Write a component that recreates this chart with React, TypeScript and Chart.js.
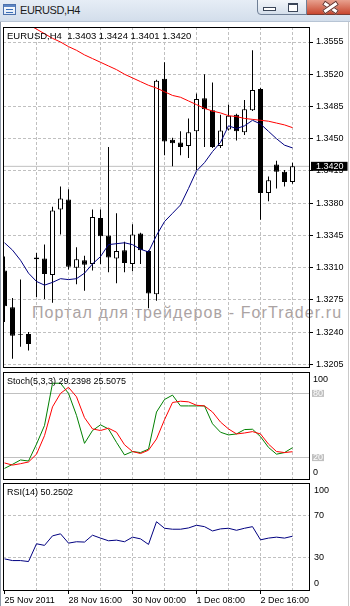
import React, { useEffect, useRef } from 'react';
import Chart from 'chart.js/auto';

const FONT = 'Liberation Sans';
const GRID = '#c0c0c0';

const windowTitle = 'EURUSD,H4';
const symbolCaption = 'EURUSD,H4';
const watermark = 'Портал для трейдеров - ForTrader.ru';

// H4 candles, index 0 = 25 Nov 2011
const opens = [1.3307, 1.3267, 1.3238, 1.3238, 1.3321, 1.3320, 1.3302, 1.3373, 1.3384, 1.3310, 1.3318, 1.3314, 1.3364, 1.3345, 1.3320, 1.3329, 1.3314, 1.3347, 1.3328, 1.3281, 1.3515, 1.3449, 1.3446, 1.3442, 1.3458, 1.3494, 1.3481, 1.3442, 1.3460, 1.3476, 1.3457, 1.3481, 1.3504, 1.3391, 1.3422, 1.3414, 1.3403];
const highs = [1.3322, 1.3277, 1.3297, 1.3240, 1.3326, 1.3335, 1.3376, 1.3398, 1.3395, 1.3332, 1.3323, 1.3373, 1.3373, 1.3441, 1.3369, 1.3338, 1.3357, 1.3348, 1.3329, 1.3514, 1.3533, 1.3451, 1.3458, 1.3472, 1.3499, 1.3520, 1.3511, 1.3476, 1.3487, 1.3477, 1.3492, 1.3546, 1.3505, 1.3409, 1.3426, 1.3416, 1.3424];
const lows = [1.3251, 1.3211, 1.3224, 1.3220, 1.3278, 1.3276, 1.3272, 1.3346, 1.3308, 1.3292, 1.3285, 1.3307, 1.3314, 1.3305, 1.3293, 1.3305, 1.3306, 1.3314, 1.3266, 1.3274, 1.3432, 1.3420, 1.3432, 1.3429, 1.3416, 1.3441, 1.3440, 1.3440, 1.3459, 1.3448, 1.3454, 1.3480, 1.3362, 1.3382, 1.3396, 1.3398, 1.3401];
const closes = [1.3268, 1.3236, 1.3237, 1.3227, 1.3319, 1.3303, 1.3372, 1.3385, 1.3311, 1.3319, 1.3313, 1.3365, 1.3344, 1.3321, 1.3328, 1.3315, 1.3346, 1.3329, 1.3282, 1.3513, 1.3447, 1.3445, 1.3441, 1.3457, 1.3493, 1.3482, 1.3441, 1.3459, 1.3475, 1.3458, 1.3482, 1.3503, 1.3391, 1.3405, 1.3414, 1.3403, 1.3420];

const maSlow = [1.3589, 1.3584, 1.3579, 1.3574, 1.3569, 1.3564, 1.3559, 1.3555, 1.3550, 1.3546, 1.3541, 1.3537, 1.3533, 1.3529, 1.3525, 1.3520, 1.3516, 1.3512, 1.3508, 1.3505, 1.3501, 1.3497, 1.3495, 1.3491, 1.3487, 1.3483, 1.3480, 1.3478, 1.3475, 1.3474, 1.3472, 1.3471, 1.3470, 1.3469, 1.3467, 1.3465, 1.3462];
const maFast = [1.3337, 1.3329, 1.3318, 1.3304, 1.3295, 1.3291, 1.3294, 1.3298, 1.3297, 1.3298, 1.3304, 1.3314, 1.3322, 1.3335, 1.3336, 1.3337, 1.3335, 1.3330, 1.3327, 1.3345, 1.3360, 1.3369, 1.3378, 1.3396, 1.3415, 1.3424, 1.3436, 1.3446, 1.3464, 1.3461, 1.3464, 1.3470, 1.3466, 1.3458, 1.3450, 1.3443, 1.3440];

const stochMain = [9.9, 13.7, 17.8, 16.8, 32.6, 50, 89.5, 89.5, 80, 59.5, 33.3, 45.3, 50.6, 46.8, 34.2, 22.5, 25.7, 24.7, 27.9, 62.6, 74.3, 78.4, 68.3, 68.3, 68.3, 68.3, 51.6, 43.7, 41.2, 42.1, 46.2, 46.5, 39.6, 29.5, 23.2, 24.7, 29.2398];
const stochSignal = [15, 13, 14.3, 15.9, 23.2, 40.5, 67.4, 80, 85.7, 76.8, 57.3, 46.8, 45.3, 47.5, 43.7, 32, 25.7, 23.8, 26.9, 37.4, 55.4, 71.5, 72.7, 72.1, 68.9, 68.3, 62.6, 53.2, 46.8, 42.1, 43, 44.3, 42.1, 32.6, 25.7, 24.7, 25.5075];
const rsiValues = [29.1, 27.5, 27.5, 26.6, 43.2, 41.7, 50.6, 52.5, 43.8, 45.1, 44.8, 51.2, 48.5, 46, 46.6, 45.1, 49.4, 47.8, 42.6, 63.8, 57.7, 56.8, 56.8, 58, 60.5, 59.2, 55.2, 57.1, 57.7, 55.8, 57.7, 59.2, 46.9, 48.5, 49.4, 48.5, 50.2502];

const priceTicks = [1.3205, 1.3240, 1.3275, 1.3310, 1.3345, 1.3380, 1.3415, 1.3450, 1.3485, 1.3520, 1.3555];
const stochLevels = [20, 80];
const rsiLevels = [30, 70];
const xLabels = ['25 Nov 2011', '28 Nov 16:00', '30 Nov 00:00', '1 Dec 08:00', '2 Dec 16:00'];
const xLabelIndex = [0, 8, 16, 24, 32];

const last = closes.length - 1;
const lastClose = closes[last];
const f4 = (v: number) => v.toFixed(4);
const priceCaption = `${symbolCaption}  ${f4(opens[last])} ${f4(highs[last])} ${f4(lows[last])} ${f4(closes[last])}`;
const stochCaption = `Stoch(5,3,3) ${stochMain[last].toFixed(4)} ${stochSignal[last].toFixed(4)}`;
const rsiCaption = `RSI(14) ${rsiValues[last].toFixed(4)}`;

const X_MIN = -0.1875;
const X_MAX = 38.0625;
const gridIdx = closes.map((_, i) => i).filter((i) => i % 4 === 0);

const panelBorder = {
  id: 'panelBorder',
  afterDraw(chart: any) {
    const { ctx, chartArea: a } = chart;
    ctx.save();
    ctx.strokeStyle = '#000';
    ctx.lineWidth = 1;
    ctx.setLineDash([]);
    ctx.strokeRect(a.left + 0.5, a.top + 0.5, a.right - a.left, a.bottom - a.top);
    ctx.restore();
  },
};

function xAxis(showLabels: boolean): any {
  return {
    type: 'linear',
    min: X_MIN,
    max: X_MAX,
    bounds: 'data',
    offset: false,
    afterBuildTicks: (s: any) => {
      s.ticks = gridIdx.map((v) => ({ value: v }));
    },
    afterFit: (s: any) => {
      s.height = showLabels ? 16 : 0;
      s.paddingLeft = 0;
      s.paddingRight = 0;
    },
    grid: {
      offset: false,
      lineWidth: 1,
      color: (c: any) => (c.tick && c.tick.value > 0 ? GRID : 'rgba(0,0,0,0)'),
      drawTicks: showLabels,
      tickLength: 4,
      tickWidth: 1,
      tickColor: (c: any) => (c.tick && xLabelIndex.includes(c.tick.value) ? '#000' : 'rgba(0,0,0,0)'),
    },
    border: { display: false, dash: [3, 2] },
    ticks: {
      display: showLabels,
      autoSkip: false,
      maxRotation: 0,
      minRotation: 0,
      align: 'start',
      padding: 1,
      color: '#000',
      font: { family: FONT, size: 9 },
      callback: (v: any) => {
        const j = xLabelIndex.indexOf(Number(v));
        return j >= 0 ? xLabels[j] : '';
      },
    },
  };
}

const baseOptions = (padding: any) => ({
  animation: false as const,
  responsive: false,
  devicePixelRatio: 1,
  events: [] as any[],
  layout: { padding },
  plugins: { legend: { display: false }, tooltip: { enabled: false }, title: { display: false } },
});

const isLast = (c: any) => !!c.tick && Math.abs(c.tick.value - lastClose) < 1e-7;

function priceConfig(): any {
  const idx = closes.map((_, i) => i);
  return {
    type: 'bar',
    data: {
      datasets: [
        {
          type: 'line',
          order: 5,
          data: [{ x: X_MIN, y: lastClose }, { x: X_MAX, y: lastClose }],
          borderColor: GRID,
          borderWidth: 1,
          pointRadius: 0,
        },
        {
          order: 4,
          data: idx.map((i) => ({ x: i, y: [lows[i], highs[i]] })),
          backgroundColor: '#000',
          borderWidth: 0,
          barThickness: 1,
          maxBarThickness: 1,
          grouped: false,
          inflateAmount: 0,
        },
        {
          order: 3,
          data: idx.map((i) => ({ x: i, y: [opens[i], closes[i]] })),
          backgroundColor: idx.map((i) => (closes[i] >= opens[i] ? '#fff' : '#000')),
          borderColor: '#000',
          borderWidth: 1,
          borderSkipped: false,
          barThickness: 5,
          maxBarThickness: 5,
          grouped: false,
          inflateAmount: 0,
        },
        {
          type: 'line',
          order: 2,
          data: idx.map((i) => ({ x: i, y: maSlow[i] })),
          borderColor: '#ff0000',
          borderWidth: 1,
          pointRadius: 0,
          tension: 0,
        },
        {
          type: 'line',
          order: 1,
          data: idx.map((i) => ({ x: i, y: maFast[i] })),
          borderColor: '#000080',
          borderWidth: 1,
          pointRadius: 0,
          tension: 0,
        },
      ],
    },
    options: {
      ...baseOptions({ top: 5, left: 3, right: 0, bottom: 5 }),
      scales: {
        x: xAxis(false),
        y: {
          type: 'linear',
          position: 'right',
          min: 1.32021,
          max: 1.35713,
          bounds: 'data',
          beginAtZero: false,
          afterBuildTicks: (s: any) => {
            s.ticks = [...priceTicks, lastClose].map((v) => ({ value: v }));
          },
          afterFit: (s: any) => {
            s.width = 41;
            s.paddingTop = 0;
            s.paddingBottom = 0;
          },
          grid: {
            lineWidth: 1,
            color: (c: any) => (isLast(c) ? 'rgba(0,0,0,0)' : GRID),
            drawTicks: true,
            tickLength: 4,
            tickWidth: 1,
            tickColor: (c: any) => (isLast(c) ? 'rgba(0,0,0,0)' : '#000'),
          },
          border: { display: false, dash: [3, 2] },
          ticks: {
            autoSkip: false,
            padding: 3,
            font: { family: FONT, size: 9, lineHeight: 1 },
            color: (c: any) => (isLast(c) ? '#fff' : '#000'),
            showLabelBackdrop: (c: any) => isLast(c),
            backdropColor: '#000',
            backdropPadding: { left: 5, right: 4, top: 0, bottom: 0 },
            callback: (v: any) => Number(v).toFixed(4),
          },
        },
      },
    },
    plugins: [panelBorder],
  };
}

// edge labels ("100" / "0") sit just inside the panel, like the terminal draws them
const EDGE_HI = 93.3;
const EDGE_LO = 6;

function oscAxis(levels: number[], levelStyle: 'stoch' | 'rsi'): any {
  const isLevel = (c: any) => !!c.tick && levels.includes(c.tick.value);
  return {
    type: 'linear',
    position: 'right',
    min: 0,
    max: 100,
    bounds: 'data',
    beginAtZero: false,
    afterBuildTicks: (s: any) => {
      s.ticks = [EDGE_LO, ...levels, EDGE_HI].map((v) => ({ value: v }));
    },
    afterFit: (s: any) => {
      s.width = 41;
      s.paddingTop = 0;
      s.paddingBottom = 0;
    },
    grid: {
      lineWidth: 1,
      color: (c: any) => (isLevel(c) ? GRID : 'rgba(0,0,0,0)'),
      drawTicks: false,
    },
    border: { display: false, dash: levelStyle === 'rsi' ? [3, 2] : [] },
    ticks: {
      autoSkip: false,
      padding: levelStyle === 'rsi' ? 5 : 4,
      font: { family: FONT, size: 9, lineHeight: 1 },
      color: (c: any) => (levelStyle === 'stoch' && isLevel(c) ? '#fff' : '#000'),
      showLabelBackdrop: (c: any) => levelStyle === 'stoch' && isLevel(c),
      backdropColor: GRID,
      backdropPadding: { left: 1, right: 1, top: -1, bottom: -1 },
      callback: (v: any) => {
        const n = Number(v);
        if (n > 90) return '100';
        if (n < 10) return '0';
        return String(n);
      },
    },
  };
}

function stochConfig(): any {
  const idx = stochMain.map((_, i) => i);
  return {
    type: 'line',
    data: {
      datasets: [
        {
          order: 2,
          data: idx.map((i) => ({ x: i, y: stochMain[i] })),
          borderColor: '#008000',
          borderWidth: 1,
          pointRadius: 0,
          tension: 0,
        },
        {
          order: 1,
          data: idx.map((i) => ({ x: i, y: stochSignal[i] })),
          borderColor: '#ff0000',
          borderWidth: 1,
          pointRadius: 0,
          tension: 0,
        },
      ],
    },
    options: {
      ...baseOptions({ top: 4, left: 3, right: 0, bottom: 4 }),
      scales: { x: xAxis(false), y: oscAxis(stochLevels, 'stoch') },
    },
    plugins: [panelBorder],
  };
}

function rsiConfig(): any {
  const idx = rsiValues.map((_, i) => i);
  return {
    type: 'line',
    data: {
      datasets: [
        {
          data: idx.map((i) => ({ x: i, y: rsiValues[i] })),
          borderColor: '#000080',
          borderWidth: 1,
          pointRadius: 0,
          tension: 0,
        },
      ],
    },
    options: {
      ...baseOptions({ top: 3, left: 3, right: 0, bottom: 0 }),
      scales: { x: xAxis(true), y: oscAxis(rsiLevels, 'rsi') },
    },
    plugins: [panelBorder],
  };
}

const abs = (s: React.CSSProperties): React.CSSProperties => ({ position: 'absolute', ...s });

export default function App() {
  const priceRef = useRef<HTMLCanvasElement>(null);
  const stochRef = useRef<HTMLCanvasElement>(null);
  const rsiRef = useRef<HTMLCanvasElement>(null);

  useEffect(() => {
    const charts: Chart[] = [];
    if (priceRef.current) charts.push(new Chart(priceRef.current, priceConfig()));
    if (stochRef.current) charts.push(new Chart(stochRef.current, stochConfig()));
    if (rsiRef.current) charts.push(new Chart(rsiRef.current, rsiConfig()));
    return () => charts.forEach((c) => c.destroy());
  }, []);

  const caption: React.CSSProperties = {
    fontFamily: FONT,
    fontSize: 9,
    lineHeight: '9px',
    color: '#000',
    whiteSpace: 'pre',
    left: 7,
  };

  return (
    <div
      style={{
        position: 'fixed',
        left: 0,
        top: 0,
        width: 350,
        height: 606,
        background: '#fff',
        overflow: 'hidden',
        fontFamily: FONT,
      }}
    >
      {/* window title bar */}
      <div style={abs({ left: 0, top: 0, width: 350, height: 21, background: 'linear-gradient(#e6edf6, #d3deeb)', borderBottom: '1px solid #b7c4d4' })} />
      <div style={abs({ left: 3, top: 4, width: 11, height: 9, border: '1px solid #4d72ad', background: 'linear-gradient(#ffffff, #dfe9f6)' })}>
        <div style={abs({ left: 0, top: 0, width: 11, height: 2, background: '#5d86c4' })} />
        <div style={abs({ left: 2, top: 4, width: 7, height: 2, borderTop: '1px solid #3a6fb8', borderBottom: '1px solid #3a6fb8' })} />
      </div>
      <div style={abs({ left: 20, top: 5, fontFamily: FONT, fontSize: 11, lineHeight: '11px', letterSpacing: -0.4, color: '#1b1b1b' })}>{windowTitle}</div>
      {/* caption buttons */}
      <div style={abs({ left: 257, top: -1, width: 23, height: 14, border: '1px solid #6f7f96', borderBottomLeftRadius: 4, background: 'linear-gradient(#f3f6fa, #d5dfeb)' })}>
        <div style={abs({ left: 5, top: 7, width: 11, height: 2, border: '1px solid #3b4658', background: '#fff' })} />
      </div>
      <div style={abs({ left: 281, top: -1, width: 25, height: 14, border: '1px solid #6f7f96', borderLeft: 'none', background: 'linear-gradient(#f3f6fa, #d5dfeb)' })}>
        <div style={abs({ left: 7, top: 3, width: 8, height: 6, border: '1px solid #3b4658', borderTopWidth: 2, background: '#fff' })} />
      </div>
      <div style={abs({ left: 307, top: -1, width: 48, height: 14, border: '1px solid #7a3c33', borderLeft: 'none', background: 'linear-gradient(#e8a18f, #c8472f)' })}>
        <div style={abs({ left: 15, top: 5, width: 15, height: 3, background: '#fff', border: '1px solid #6b3028', transform: 'rotate(35deg)' })} />
        <div style={abs({ left: 15, top: 5, width: 15, height: 3, background: '#fff', border: '1px solid #6b3028', transform: 'rotate(-35deg)' })} />
      </div>
      {/* window frame edges */}
      <div style={abs({ left: 0, top: 22, width: 1, height: 584, background: '#8e98a6' })} />
      <div style={abs({ left: 348, top: 22, width: 1, height: 584, background: '#c9c9c9' })} />

      {/* watermark under the chart */}
      <div style={abs({ left: 32, top: 304.5, fontFamily: FONT, fontSize: 16, lineHeight: '16px', letterSpacing: 1.1, color: '#aba3a3', whiteSpace: 'pre' })}>{watermark}</div>

      <canvas ref={priceRef} width={350} height={350} style={abs({ left: 0, top: 22, width: 350, height: 350 })} />
      <canvas ref={stochRef} width={350} height={115} style={abs({ left: 0, top: 368, width: 350, height: 115 })} />
      <canvas ref={rsiRef} width={350} height={126} style={abs({ left: 0, top: 480, width: 350, height: 126 })} />

      <div style={abs({ ...caption, top: 30.5, fontSize: 9.5 })}>{priceCaption}</div>
      <div style={abs({ ...caption, top: 377 })}>{stochCaption}</div>
      <div style={abs({ ...caption, top: 488 })}>{rsiCaption}</div>
    </div>
  );
}
